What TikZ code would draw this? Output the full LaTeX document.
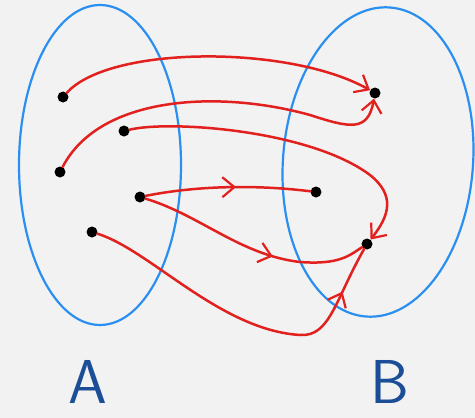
\documentclass[tikz,border=0pt]{standalone}
\usepackage{xcolor}
\usetikzlibrary{arrows.meta,decorations.markings}
\definecolor{paper}{HTML}{F2F2F2}
\definecolor{setblue}{HTML}{2A8FF0}
\definecolor{mapred}{HTML}{E2201E}
\definecolor{labelblue}{HTML}{1C4E98}
\tikzset{
  elem/.style={circle,fill=black,inner sep=0pt,minimum size=11pt},
  setline/.style={draw=setblue,line width=2.2pt},
  link/.style={draw=mapred,line width=2.5pt,line cap=round,
    -{Straight Barb[length=12pt,width=20pt,line width=2.2pt]}},
  midhead/.style={postaction={decorate},decoration={markings,
    mark=at position #1 with {\arrow{Straight Barb[length=12pt,width=20pt,line width=2.2pt]}}}},
  setlabel/.style={text=labelblue,inner sep=0pt,font=\sffamily\fontsize{62}{62}\selectfont}
}
\begin{document}
\begin{tikzpicture}[x=1pt,y=-1pt]
  \fill[paper] (0,0) rectangle (475,418);
  \useasboundingbox (0,0) rectangle (475,418);
  % the two sets
  \draw[setline] (100,165) ellipse [x radius=81, y radius=160];
  \draw[setline,rotate around={-4.5:(378,162)}] (378,162) ellipse [x radius=95, y radius=155];
  % elements of A
  \node[elem] (a1) at (63,97) {};
  \node[elem] (a2) at (60,172) {};
  \node[elem] (a3) at (124,131) {};
  \node[elem] (a4) at (140,197) {};
  \node[elem] (a5) at (92,232) {};
  % elements of B
  \node[elem] (b1) at (375,93) {};
  \node[elem] (b2) at (316,192) {};
  \node[elem] (b3) at (367,244) {};
  % the mapping
  \draw[link] (a1) .. controls (110,45) and (290,45) .. (b1);
  \draw[link] (a2) .. controls (100,95) and (220,90) .. (310,115)
    .. controls (350,128) and (368,132) .. (b1);
  \draw[link] (a3) .. controls (170,120) and (310,130) .. (370,175)
    .. controls (395,195) and (390,215) .. (b3);
  \draw[link,-,midhead=0.55] (a4) .. controls (200,185) and (260,185) .. (b2);
  \draw[link,-,midhead=0.6] (a4) .. controls (200,215) and (240,255) .. (300,262)
    .. controls (340,265) and (350,255) .. (b3);
  \draw[link,-,midhead=0.86] (a5) .. controls (150,250) and (220,330) .. (300,335)
    .. controls (330,337) and (335,300) .. (b3);
  % labels
  \node[setlabel] (labA) at (88,382) {A};
  \node[setlabel] (labB) at (390,382) {B};
\end{tikzpicture}
\end{document}
